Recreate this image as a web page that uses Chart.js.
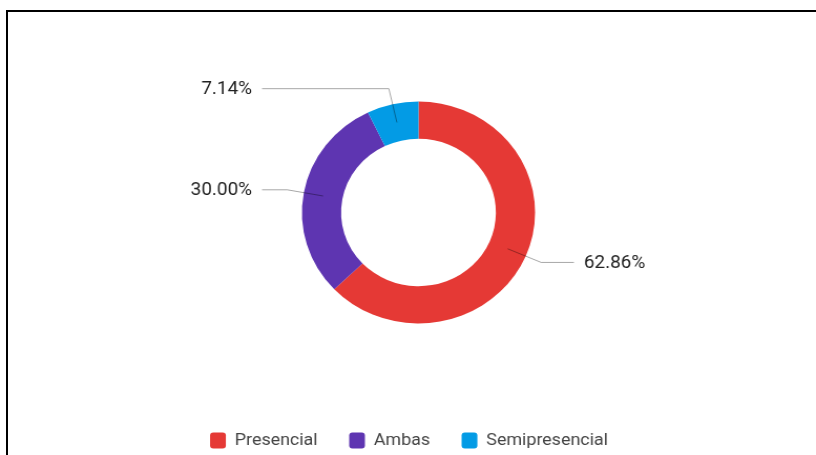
<!DOCTYPE html>
<html>
<head>
<meta charset="utf-8">
<script src="https://cdn.jsdelivr.net/npm/chart.js@4"></script>
<style>
    body { margin: 0; background: #fff; }
    #wrap { position: absolute; left: 0; top: 0; width: 816px; height: 455px; }
    #frame { position: absolute; left: 6px; top: 10px; right: 0; bottom: 0; border-top: 2px solid #000; border-left: 2px solid #000; pointer-events: none; }
</style>
</head>
<body>
<div id="wrap">
    <!-- the original is a bit wider than tall, so the canvas is stretched sideways -->
    <canvas id="donut" width="777" height="455" style="width:816px;height:455px"></canvas>
</div>
<div id="frame"></div>
<script>
const categories = ["Presencial", "Ambas", "Semipresencial"];
const shares = [62.86, 30.0, 7.14];
const colours = ["#E53935", "#5E35B1", "#039BE5"];

// labels outside the ring with an elbow leader line
const outsideLabels = {
    id: "outsideLabels",
    afterDatasetsDraw(chart) {
        const ctx = chart.ctx;
        const meta = chart.getDatasetMeta(0);
        ctx.save();
        ctx.font = "18px Roboto";
        ctx.textBaseline = "middle";
        meta.data.forEach((arc, i) => {
            const p = arc.getProps(["x", "y", "startAngle", "endAngle", "innerRadius", "outerRadius"], true);
            const mid = (p.startAngle + p.endAngle) / 2;
            const r0 = (p.innerRadius + p.outerRadius) / 2;
            const r1 = p.outerRadius + 16;
            const sx = p.x + Math.cos(mid) * r0;
            const sy = p.y + Math.sin(mid) * r0;
            const ex = p.x + Math.cos(mid) * r1;
            const ey = p.y + Math.sin(mid) * r1;
            const right = Math.cos(mid) >= 0;
            const hx = right ? p.x + 148 : p.x - 149;
            ctx.strokeStyle = "rgba(0,0,0,0.35)";
            ctx.lineWidth = 1;
            ctx.beginPath();
            ctx.moveTo(sx, sy);
            ctx.lineTo(ex, ey);
            ctx.lineTo(hx, ey);
            ctx.stroke();
            ctx.fillStyle = "#222";
            ctx.textAlign = right ? "left" : "right";
            ctx.fillText(shares[i].toFixed(2) + "%", right ? hx + 9.5 : hx - 9.5, ey + 1);
        });
        ctx.restore();
    },
    afterLayout(chart) {
        // legend sits centred on the page, donut a bit to the right
        chart.legend.left -= 9;
        chart.legend.right -= 9;
    },
};

new Chart(document.getElementById("donut"), {
    type: "doughnut",
    plugins: [outsideLabels],
    data: {
        labels: categories,
        datasets: [
            {
                data: shares,
                backgroundColor: colours,
                borderWidth: 0,
            },
        ],
    },
    options: {
        responsive: false,
        animation: false,
        cutout: "66.4%",
        layout: {
            padding: { top: 101.5, bottom: -4, left: 20, right: 0 },
        },
        plugins: {
            tooltip: { enabled: false },
            legend: {
                position: "bottom",
                title: {
                    display: true,
                    text: " ",
                    font: { size: 10 },
                    padding: { top: 66.5, bottom: 0 },
                },
                labels: {
                    boxWidth: 15,
                    boxHeight: 16,
                    useBorderRadius: true,
                    borderRadius: 3,
                    padding: 30,
                    color: "#444",
                    font: { family: "Roboto", size: 17 },
                },
            },
        },
    },
});
</script>
</body>
</html>
